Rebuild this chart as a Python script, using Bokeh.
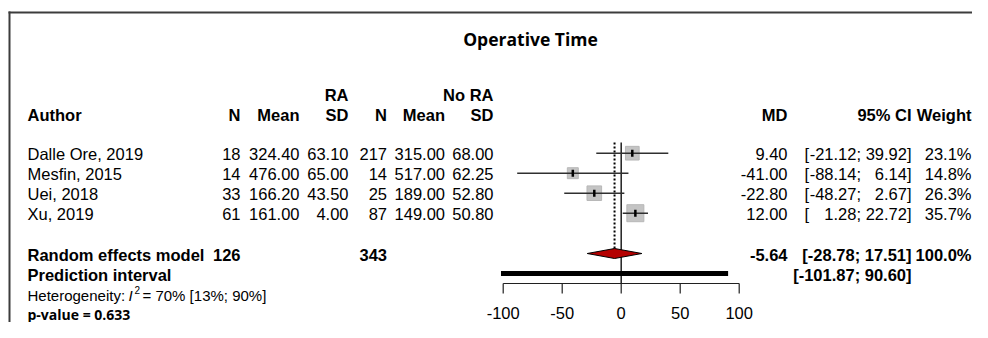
import math
from bokeh.plotting import figure
from bokeh.models import Range1d, ColumnDataSource
from bokeh.embed import file_html
from bokeh.resources import INLINE
from bokeh.core.properties import value

# ---------------- data ----------------
title = "Operative Time"
authors = ["Dalle Ore, 2019", "Mesfin, 2015", "Uei, 2018", "Xu, 2019"]
ra_n = [18, 14, 33, 61]
ra_mean = [324.40, 476.00, 166.20, 161.00]
ra_sd = [63.10, 65.00, 43.50, 4.00]
nora_n = [217, 14, 25, 87]
nora_mean = [315.00, 517.00, 189.00, 149.00]
nora_sd = [68.00, 62.25, 52.80, 50.80]
md = [9.40, -41.00, -22.80, 12.00]
ci_lo = [-21.12, -88.14, -48.27, 1.28]
ci_hi = [39.92, 6.14, 2.67, 22.72]
weight = [23.1, 14.8, 26.3, 35.7]

re_n_ra = 126
re_n_nora = 343
re_md = -5.64
re_lo = -28.78
re_hi = 17.51
re_weight = 100.0
pi_lo = -101.87
pi_hi = 90.60
i2 = 70
i2_lo = 13
i2_hi = 90
p_value = 0.633
ticks = [-100, -50, 0, 50, 100]

# ---------------- layout ----------------
W, H = 972, 322
FONT = "Liberation Sans"
FS = "16.5px"

p = figure(width=W, height=H, x_range=Range1d(0, W), y_range=Range1d(H, 0),
           x_axis_location=None, y_axis_location=None, min_border=0,
           toolbar_location=None, output_backend="svg", outline_line_color=None,
           background_fill_color="white", border_fill_color="white")
p.grid.visible = False
# md scale: -100 -> x 502.7, 100 -> x 738.7
ppu = (738.7 - 502.7) / 200.0
p.extra_x_ranges = {"md": Range1d(-100 - 502.7 / ppu, 100 + (W - 738.7) / ppu)}


def txt(x, y, s, align="left", bold=False, size=FS, font=FONT, italic=False, color="black"):
    if not isinstance(x, list):
        x, y, s = [x], [y], [s]
    style = "bold" if bold else ("italic" if italic else "normal")
    p.text(x=x, y=y, text=s, text_align=align, text_baseline="middle",
           text_font=value(font), text_font_size=size, text_font_style=style,
           text_color=color)


# frame border (top + left)
p.segment(x0=[8], y0=[12], x1=[W], y1=[12], line_color="#3c3c3c", line_width=2)
p.segment(x0=[9], y0=[11], x1=[9], y1=[H], line_color="#3c3c3c", line_width=2)

# title
txt(530, 38, title, align="center", bold=True, size="17.5px", font="Open Sans")

# column anchors (right edges)
X_N1, X_M1, X_S1 = 240, 299, 348
X_N2, X_M2, X_S2 = 386.5, 444.5, 493
X_MD, X_CI, X_W = 787, 911, 971
X_BR, X_LO = 804, 860.5

# headers
txt(X_S1, 94.7, "RA", align="right", bold=True)
txt(X_S2, 94.7, "No RA", align="right", bold=True)
hy = 114.5
txt(27, hy, "Author", bold=True)
for xr, lab in [(X_N1, "N"), (X_M1, "Mean"), (X_S1, "SD"), (X_N2, "N"), (X_M2, "Mean"),
                (X_S2, "SD"), (X_MD, "MD"), (X_CI, "95% CI"), (X_W, "Weight")]:
    txt(xr, hy, lab, align="right", bold=True)

# study rows
n = len(authors)
row_y = [152.7 + 20 * i for i in range(n)]
ty = [y + 1 for y in row_y]
f2 = lambda v: "%.2f" % v
txt([27] * n, ty, authors)
txt([X_N1] * n, ty, [str(v) for v in ra_n], align="right")
txt([X_M1] * n, ty, [f2(v) for v in ra_mean], align="right")
txt([X_S1] * n, ty, [f2(v) for v in ra_sd], align="right")
txt([X_N2] * n, ty, [str(v) for v in nora_n], align="right")
txt([X_M2] * n, ty, [f2(v) for v in nora_mean], align="right")
txt([X_S2] * n, ty, [f2(v) for v in nora_sd], align="right")
txt([X_MD] * n, ty, [f2(v) for v in md], align="right")
txt([X_BR] * n, ty, ["["] * n)
txt([X_LO] * n, ty, [f2(v) + ";" for v in ci_lo], align="right")
txt([X_CI] * n, ty, [f2(v) + "]" for v in ci_hi], align="right")
txt([X_W] * n, ty, ["%.1f%%" % v for v in weight], align="right")

# summary rows
sy = 253.0
py = 273.0
txt(27, sy + 1.5, "Random effects model", bold=True)
txt(X_N1, sy + 1.5, str(re_n_ra), align="right", bold=True)
txt(X_N2, sy + 1.5, str(re_n_nora), align="right", bold=True)
txt(X_MD, sy + 1.5, f2(re_md), align="right", bold=True)
txt(X_CI, sy + 1.5, "[%s; %s]" % (f2(re_lo), f2(re_hi)), align="right", bold=True)
txt(X_W, sy + 1.5, "%.1f%%" % re_weight, align="right", bold=True)
txt(27, py + 1.5, "Prediction interval", bold=True)
txt(X_CI, py + 1.5, "[%s; %s]" % (f2(pi_lo), f2(pi_hi)), align="right", bold=True)

# heterogeneity + p-value
txt(27, 295, "Heterogeneity:", size="15px")
txt(128, 295, "I", size="15px", italic=True)
txt(134, 289, "2", size="10px")
txt(142, 295, "= %d%% [%d%%; %d%%]" % (i2, i2_lo, i2_hi), size="15px")
txt(27, 313.5, "p-value = %.3f" % p_value, bold=True, size="14px", font="Open Sans")

# ---------------- forest ----------------
axis_y = 283
top_y = 142
p.segment(x0=[0], x1=[0], y0=[top_y], y1=[axis_y], line_color="#202020", line_width=1.5,
          x_range_name="md")
p.segment(x0=[re_md], x1=[re_md], y0=[top_y], y1=[sy - 5], line_color="black",
          line_width=2, line_dash="2 2", x_range_name="md")

src = ColumnDataSource(dict(md=md, lo=ci_lo, hi=ci_hi, y=row_y,
                            size=[2.85 * math.sqrt(w) for w in weight],
                            t0=[y - 3.5 for y in row_y], t1=[y + 3.5 for y in row_y]))
p.scatter(x="md", y="y", size="size", marker="square", fill_color="#c4c4c4",
          line_color="#b8b8b8", source=src, x_range_name="md")
p.segment(x0="lo", x1="hi", y0="y", y1="y", line_color="#303030", line_width=1.5,
          source=src, x_range_name="md")
p.segment(x0="md", x1="md", y0="t0", y1="t1", line_color="black", line_width=2.5,
          source=src, x_range_name="md")

# summary diamond
p.patch(x=[re_lo, re_md, re_hi, re_md], y=[sy, sy - 5, sy, sy + 5], fill_color="#b40000",
        line_color="black", line_width=1, x_range_name="md")
# prediction interval
p.segment(x0=[pi_lo], x1=[pi_hi], y0=[py], y1=[py], line_color="black", line_width=5,
          line_cap="butt", x_range_name="md")

# axis
p.segment(x0=[min(ticks)], x1=[max(ticks)], y0=[axis_y], y1=[axis_y], line_color="#202020",
          line_width=1.2, x_range_name="md")
p.segment(x0=ticks, x1=ticks, y0=[axis_y] * len(ticks), y1=[axis_y + 10] * len(ticks),
          line_color="#202020", line_width=1.2, x_range_name="md")
p.text(x=ticks, y=[312.5] * len(ticks), text=[str(t) for t in ticks], text_align="center",
       text_baseline="middle", text_font=value(FONT), text_font_size=FS, text_color="black",
       x_range_name="md")

open("out.html", "w").write(file_html(p, INLINE))
